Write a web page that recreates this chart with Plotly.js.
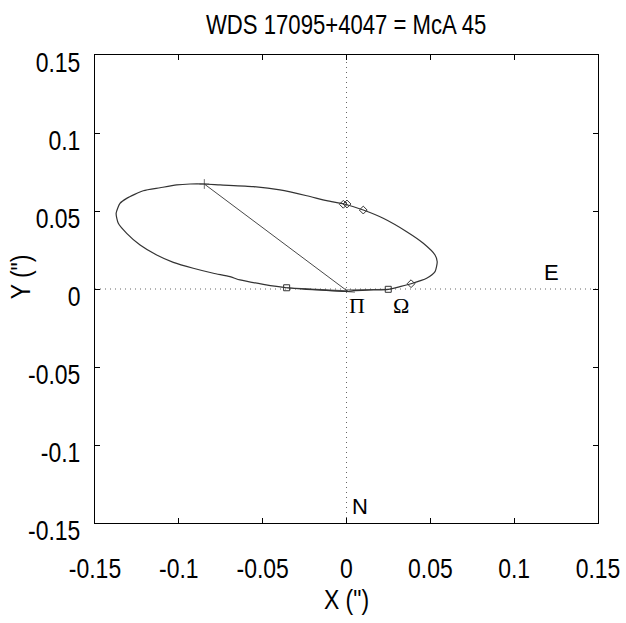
<!DOCTYPE html>
<html>
<head>
<meta charset="utf-8">
<script src="https://cdn.plot.ly/plotly-3.0.1.min.js"></script>
<style>html,body{margin:0;padding:0;background:#fff;}#chart{width:626px;height:623px;}</style>
</head>
<body>
<div id="chart"></div>
<script>
// Apparent orbit (arcseconds)
const orbitX = [-0.0848,-0.0754,-0.0556,-0.0397,-0.0237,-0.0118,-0.0009,0.0100,0.0219,0.0359,0.0458,0.0528,0.0541,0.0528,0.0478,0.0385,0.0319,0.0249,0.0160,0.0041,0.0009,-0.0098,-0.0237,-0.0357,-0.0496,-0.0635,-0.0695,-0.0794,-0.0914,-0.1033,-0.1132,-0.1231,-0.1311,-0.1361,-0.1374,-0.1351,-0.1311,-0.1212,-0.1112,-0.1013,-0.0933,-0.0848];
const orbitY = [0.0673,0.0667,0.0656,0.0635,0.0598,0.0566,0.0543,0.0506,0.0453,0.0367,0.0293,0.0218,0.0175,0.0111,0.0069,0.0034,0.0015,-0.0002,-0.0006,-0.0011,-0.0016,-0.0010,-0.0002,0.0008,0.0030,0.0058,0.0079,0.0101,0.0133,0.0171,0.0218,0.0282,0.0357,0.0421,0.0485,0.0549,0.0581,0.0630,0.0649,0.0667,0.0673,0.0673];

// Line from the marked orbit point to the primary
const apsX = [-0.0848, 0.0006];
const apsY = [0.0673, -0.0014];

// Observations
const sqX = [-0.0357, 0.0249];
const sqY = [0.0008, -0.0002];
const diaX = [-0.0019, 0.0003, 0.0100, 0.0385];
const diaY = [0.0543, 0.0545, 0.0506, 0.0034];

// O-C residual lines near the periastron
const resX = [-0.0357, 0.0009, null, 0.0249, -0.0005, null, -0.0300, 0.0050];
const resY = [0.0008, -0.0012, null, -0.0002, -0.0006, null, 0.0003, -0.0020];

// Axis ticks
const tickVals = [-0.15, -0.1, -0.05, 0, 0.05, 0.1, 0.15];
const tickText = ['-0.15', '-0.1', '-0.05', '0', '0.05', '0.1', '0.15'];

const FONT = 'Liberation Sans, Arial, sans-serif';
const INK = '#333333';
const DOT = {color: '#666', width: 1, dash: '1px,4px'};

const traces = [
  {x: [0, 0], y: [-0.15, 0.15], mode: 'lines', line: DOT, hoverinfo: 'skip'},
  {x: [-0.15, 0.15], y: [0, 0], mode: 'lines', line: DOT, hoverinfo: 'skip'},
  {x: orbitX, y: orbitY, mode: 'lines', line: {color: INK, width: 1.2, shape: 'spline', smoothing: 0.6}},
  {x: apsX, y: apsY, mode: 'lines+markers', line: {color: INK, width: 0.9},
   marker: {symbol: ['cross-thin-open', 'line-ns-open'], size: [7, 0], color: INK, line: {color: INK, width: 1}}},
  {x: resX, y: resY, mode: 'lines', line: {color: INK, width: 0.8}},
  {x: sqX, y: sqY, mode: 'markers', marker: {symbol: 'square-open', size: 6, color: INK, line: {color: INK, width: 1}}},
  {x: diaX, y: diaY, mode: 'markers', marker: {symbol: 'diamond-open', size: 6, color: INK, line: {color: INK, width: 1}}}
];

const axisCommon = {
  range: [-0.15, 0.15], tickvals: tickVals, ticktext: tickText,
  ticks: 'inside', ticklen: 5, tickcolor: '#000', tickwidth: 1,
  showline: true, linecolor: '#000', linewidth: 1, mirror: 'ticks',
  showgrid: false, zeroline: false,
  tickfont: {family: FONT, size: 28, color: '#000'},
  fixedrange: true
};

const layout = {
  width: 626, height: 623,
  margin: {l: 95, r: 28, t: 55, b: 100},
  paper_bgcolor: '#fff', plot_bgcolor: '#fff',
  showlegend: false,
  title: {text: 'WDS 17095+4047 = McA 45', font: {family: FONT, size: 27, color: '#000'}, x: 0.553, xanchor: 'center', y: 0.96, yanchor: 'middle'},
  xaxis: Object.assign({}, axisCommon, {
    ticklabelstandoff: 20,
    title: {text: 'X (")', font: {family: FONT, size: 28, color: '#000'}, standoff: 6}
  }),
  yaxis: Object.assign({}, axisCommon, {
    ticklabelstandoff: 8,
    title: {text: 'Y (")', font: {family: FONT, size: 28, color: '#000'}, standoff: 4}
  }),
  annotations: [
    {x: 0.122, y: 0.0109, text: 'E', showarrow: false, font: {family: FONT, size: 22, color: '#000'}},
    {x: 0.008, y: -0.1397, text: 'N', showarrow: false, font: {family: FONT, size: 22, color: '#000'}},
    {x: 0.0063, y: -0.0103, text: 'Π', showarrow: false, font: {family: 'Liberation Serif, Times New Roman, serif', size: 22, color: '#000'}},
    {x: 0.0325, y: -0.0103, text: 'Ω', showarrow: false, font: {family: 'Liberation Serif, Times New Roman, serif', size: 22, color: '#000'}}
  ]
};

// Narrow the title/tick/axis-title glyphs horizontally about their anchor (the reference uses a condensed face)
function condense(gd, s) {
  gd.querySelectorAll('.xtick text, .ytick text, .gtitle, .g-xtitle text, .g-ytitle text').forEach(function (t) {
    const x = parseFloat(t.getAttribute('x')) || 0;
    const y = parseFloat(t.getAttribute('y')) || 0;
    const prev = t.getAttribute('transform') || '';
    t.setAttribute('transform', prev + ' translate(' + x + ',' + y + ') scale(' + s + ',1) translate(' + (-x) + ',' + (-y) + ')');
  });
  // the reference's y tick labels sit slightly below their ticks
  gd.querySelectorAll('.ytick text').forEach(function (t) {
    t.setAttribute('transform', 'translate(0,7) ' + (t.getAttribute('transform') || ''));
  });
  // place the y title where the reference has it (centre ~ x 20, y 277)
  const yt = gd.querySelector('.g-ytitle text');
  if (yt) {
    const r = yt.getBoundingClientRect();
    const host = gd.getBoundingClientRect();
    const cx = r.left - host.left + r.width / 2;
    const cy = r.top - host.top + r.height / 2;
    yt.setAttribute('transform', 'translate(' + (20 - cx) + ',' + (277 - cy) + ') ' + (yt.getAttribute('transform') || ''));
  }
}

Plotly.newPlot('chart', traces, layout, {displayModeBar: false, staticPlot: true}).then(function (gd) { condense(gd, 0.82); });
</script>
</body>
</html>
